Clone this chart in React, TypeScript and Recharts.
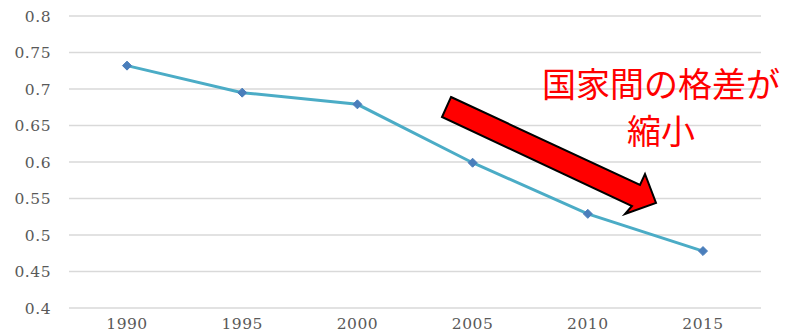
import React from 'react';
import { LineChart, Line, XAxis, YAxis, CartesianGrid } from 'recharts';

const years = ['1990', '1995', '2000', '2005', '2010', '2015'];
const gapValues = [0.732, 0.695, 0.679, 0.599, 0.529, 0.478];
const yTicks = [0.4, 0.45, 0.5, 0.55, 0.6, 0.65, 0.7, 0.75, 0.8];
const noteLines = ['国家間の格差が', '縮小'];

const chartData = years.map((year, i) => ({ year, value: gapValues[i] }));

const tickStyle = { fill: '#595959', fontSize: 15.5, fontFamily: '"DejaVu Serif", serif', letterSpacing: 0.5 };

// small diamond marker like the Excel default
const Diamond = (props: any) => {
  const { cx, cy } = props;
  if (cx == null || cy == null) return null;
  const r = 4.5;
  return (
    <polygon
      points={`${cx},${cy - r} ${cx + r},${cy} ${cx},${cy + r} ${cx - r},${cy}`}
      fill="#4a7ebb"
      stroke="#4a7ebb"
      strokeWidth={1}
    />
  );
};

const App: React.FC = () => {
  return (
    <div style={{ position: 'absolute', left: 0, top: 0, width: 793, height: 333, background: '#fff' }}>
      <LineChart width={793} height={333} data={chartData} margin={{ top: 16, right: 32, bottom: 0, left: 0 }}>
        <CartesianGrid vertical={false} stroke="#d9d9d9" strokeWidth={1.5} />
        <XAxis
          dataKey="year"
          axisLine={false}
          tickLine={false}
          tickSize={0}
          tickMargin={10}
          height={25}
          tick={tickStyle}
          interval={0}
          padding={{ left: 58, right: 58 }}
        />
        <YAxis
          domain={[0.4, 0.8]}
          ticks={yTicks}
          axisLine={false}
          tickLine={false}
          tickSize={0}
          tickMargin={18}
          width={69}
          tick={tickStyle}
          interval={0}
        />
        <Line
          type="linear"
          dataKey="value"
          stroke="#4bacc6"
          strokeWidth={3}
          dot={<Diamond />}
          activeDot={false}
          isAnimationActive={false}
        />
      </LineChart>
      <svg width={793} height={333} style={{ position: 'absolute', left: 0, top: 0, pointerEvents: 'none' }}>
        <polygon
          points="451,97 640,185 645,174 656,203 625,214 632,206 442,117"
          fill="#ff0000"
          stroke="#000"
          strokeWidth={2}
          strokeLinejoin="miter"
        />
        {noteLines.map((line, i) => (
          <text
            key={line}
            x={661}
            y={i === 0 ? 82 : 129}
            textAnchor="middle"
            dominantBaseline="central"
            fill="#ff0000"
            fontSize={34}
            fontFamily='"Noto Sans CJK JP", sans-serif'
          >
            {line}
          </text>
        ))}
      </svg>
    </div>
  );
};

export default App;
